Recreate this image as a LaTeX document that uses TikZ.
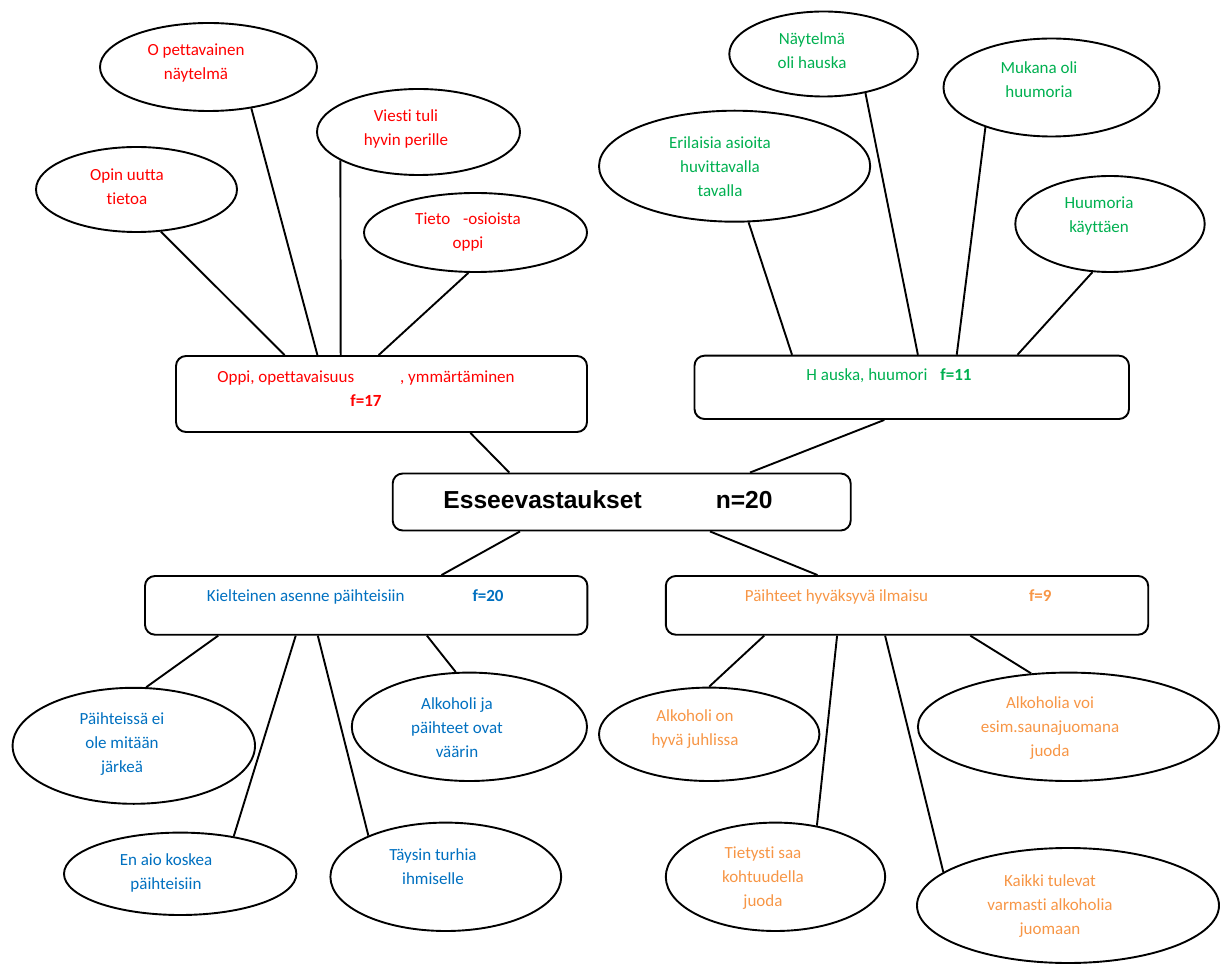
\documentclass[tikz,border=0pt]{standalone}
\usepackage{fontspec}
\setmainfont{Carlito}[Ligatures={NoCommon}]
\newfontfamily\titlefont{Liberation Sans}
\usetikzlibrary{shapes.geometric}
\definecolor{oppired}{RGB}{255,0,0}
\definecolor{huumorigreen}{RGB}{0,176,80}
\definecolor{kieltoblue}{RGB}{0,112,192}
\definecolor{hyvaksyorange}{RGB}{247,150,70}

\begin{document}
\begin{tikzpicture}[x=1pt, y=-1pt, line width=1.9pt]
        \tikzstyle{block} = [rectangle, draw, rounded corners=10pt, inner sep=0pt]
        \tikzstyle{bubble} = [ellipse, draw, inner sep=0pt]
        \tikzstyle{txt} = [align=center, inner sep=0pt, font=\fontsize{17}{24}\selectfont]
        \tikzstyle{line} = [draw]

        \useasboundingbox (0,0) rectangle (1232,965);

        % main box
        \node [block, minimum width=458pt, minimum height=57pt] (main) at (621.7,502) {};
        \node [inner sep=0pt, font=\titlefont\bfseries\fontsize{24.6}{29}\selectfont] (maintxt) at (608,500) {Esseevastaukset\hspace{74pt}n=20};

        % categories
        \node [block, minimum width=411pt, minimum height=76pt] (oppi) at (381.5,394) {};
        \node [txt, oppired] (oppitxt) at (366,389) {Oppi, opettavaisuus\hspace{46pt}, ymmärtäminen\\\textbf{f=17}};
        \node [block, minimum width=434.5pt, minimum height=63.3pt] (huumori) at (911.75,387.35) {};
        \node [txt, huumorigreen] (huumoritxt) at (889,376) {H auska, huumori\hspace{13pt}\textbf{f=11}};
        \node [block, minimum width=442.4pt, minimum height=58.7pt] (kielto) at (366.2,605.35) {};
        \node [txt, kieltoblue] (kieltotxt) at (355.3,596.7) {Kielteinen asenne päihteisiin\hspace{68pt}\textbf{f=20}};
        \node [block, minimum width=482.4pt, minimum height=58.7pt] (hyvaksy) at (907,605.35) {};
        \node [txt, hyvaksyorange] (hyvaksytxt) at (898.2,596.7) {Päihteet hyväksyvä ilmaisu\hspace{101pt}\textbf{f=9}};

        % red answers
        \node [bubble, minimum width=217pt, minimum height=88pt] (naytelma) at (208.5,67) {};
        \node [txt, oppired] (naytelmatxt) at (196,63) {O pettavainen\\näytelmä};
        \node [bubble, minimum width=201pt, minimum height=85pt] (uutta) at (136.5,189.5) {};
        \node [txt, oppired] (uuttatxt) at (127,187) {Opin uutta\\tietoa};
        \node [bubble, minimum width=203pt, minimum height=86pt] (viesti) at (418.5,132) {};
        \node [txt, oppired] (viestitxt) at (406,129) {Viesti tuli\\hyvin perille};
        \node [bubble, minimum width=223pt, minimum height=79pt] (tieto) at (475.5,232.5) {};
        \node [txt, oppired] (tietotxt) at (468,232) {Tieto\hspace{9pt} -osioista\\oppi};

        % green answers
        \node [bubble, minimum width=188.6pt, minimum height=85pt] (hauska) at (823.6,54) {};
        \node [txt, huumorigreen] (hauskatxt) at (812,51) {Näytelmä\\oli hauska};
        \node [bubble, minimum width=216pt, minimum height=98pt] (mukana) at (1051.5,87.5) {};
        \node [txt, huumorigreen] (mukanatxt) at (1039,80) {Mukana oli\\huumoria};
        \node [bubble, minimum width=271.2pt, minimum height=111pt] (erilaisia) at (734.6,166.2) {};
        \node [txt, huumorigreen] (erilaisiatxt) at (720,166.5) {Erilaisia asioita\\huvittavalla\\tavalla};
        \node [bubble, minimum width=189.4pt, minimum height=96pt] (kayttaen) at (1110,224) {};
        \node [txt, huumorigreen] (kayttaentxt) at (1099,216.5) {Huumoria\\käyttäen};

        % blue answers
        \node [bubble, minimum width=242.4pt, minimum height=116pt] (jarkea) at (133.8,745.8) {};
        \node [txt, kieltoblue] (jarkeatxt) at (122,744) {Päihteissä ei\\ole mitään\\järkeä};
        \node [bubble, minimum width=232.4pt, minimum height=82.4pt] (koskea) at (180.2,873.8) {};
        \node [txt, kieltoblue] (koskeatxt) at (166,872.5) {En aio koskea\\päihteisiin};
        \node [bubble, minimum width=235.2pt, minimum height=108.4pt] (vaarin) at (469.4,726.8) {};
        \node [txt, kieltoblue] (vaarintxt) at (457,728) {Alkoholi ja\\päihteet ovat\\väärin};
        \node [bubble, minimum width=230.8pt, minimum height=108.4pt] (turhia) at (445.8,876.8) {};
        \node [txt, kieltoblue] (turhiatxt) at (433,867) {Täysin turhia\\ihmiselle};

        % orange answers
        \node [bubble, minimum width=220.4pt, minimum height=93.4pt] (juhlissa) at (709.2,734.3) {};
        \node [txt, hyvaksyorange] (juhlissatxt) at (695,729) {Alkoholi on\\hyvä juhlissa};
        \node [bubble, minimum width=219.4pt, minimum height=108.4pt] (kohtuus) at (775.5,876.8) {};
        \node [txt, hyvaksyorange] (kohtuustxt) at (763,878.5) {Tietysti saa\\kohtuudella\\juoda};
        \node [bubble, minimum width=301.2pt, minimum height=108.4pt] (sauna) at (1068.5,726.8) {};
        \node [txt, hyvaksyorange] (saunatxt) at (1050,728) {Alkoholia voi\\esim.saunajuomana\\juoda};
        \node [bubble, minimum width=302pt, minimum height=115pt] (tulevat) at (1068,905.5) {};
        \node [txt, hyvaksyorange] (tulevattxt) at (1050,906) {Kaikki tulevat\\varmasti alkoholia\\juomaan};

        \path [line] ([xshift=-112.4pt]main.north) -- ([xshift=88.9pt]oppi.south);
        \path [line] ([xshift=128.3pt]main.north) -- ([xshift=-27.45pt]huumori.south);
        \path [line] ([xshift=-101.7pt]main.south) -- ([xshift=75.3pt]kielto.north);
        \path [line] ([xshift=88.3pt]main.south) -- ([xshift=-89.5pt]hyvaksy.north);

        \path [line] ([xshift=-96.9pt]oppi.north) -- (uutta.300.6);
        \path [line] ([xshift=-64.1pt]oppi.north) -- (naytelma.316.2);
        \path [line] ([xshift=-40.8pt]oppi.north) -- (viesti.200.9);
        \path [line] ([xshift=-2.8pt]oppi.north) -- (tieto.260);

        \path [line] ([xshift=-119.75pt]huumori.north) -- (erilaisia.284.4);
        \path [line] ([xshift=6.15pt]huumori.north) -- (hauska.317.4);
        \path [line] ([xshift=45pt]huumori.north) -- (mukana.211.8);
        \path [line] ([xshift=105.75pt]huumori.north) -- (kayttaen.250.7);

        \path [line] ([xshift=-148pt]kielto.south) -- (jarkea.78.7);
        \path [line] ([xshift=-70.5pt]kielto.south) -- (koskea.35.4);
        \path [line] ([xshift=-48.4pt]kielto.south) -- (turhia.152.1);
        \path [line] ([xshift=60.7pt]kielto.south) -- (vaarin.104.1);

        \path [line] ([xshift=-142.8pt]hyvaksy.south) -- (juhlissa.90);
        \path [line] ([xshift=-69.9pt]hyvaksy.south) -- (kohtuus.51.1);
        \path [line] ([xshift=-21.9pt]hyvaksy.south) -- (tulevat.165.5);
        \path [line] ([xshift=63.3pt]hyvaksy.south) -- (sauna.125.9);
\end{tikzpicture}
\end{document}
